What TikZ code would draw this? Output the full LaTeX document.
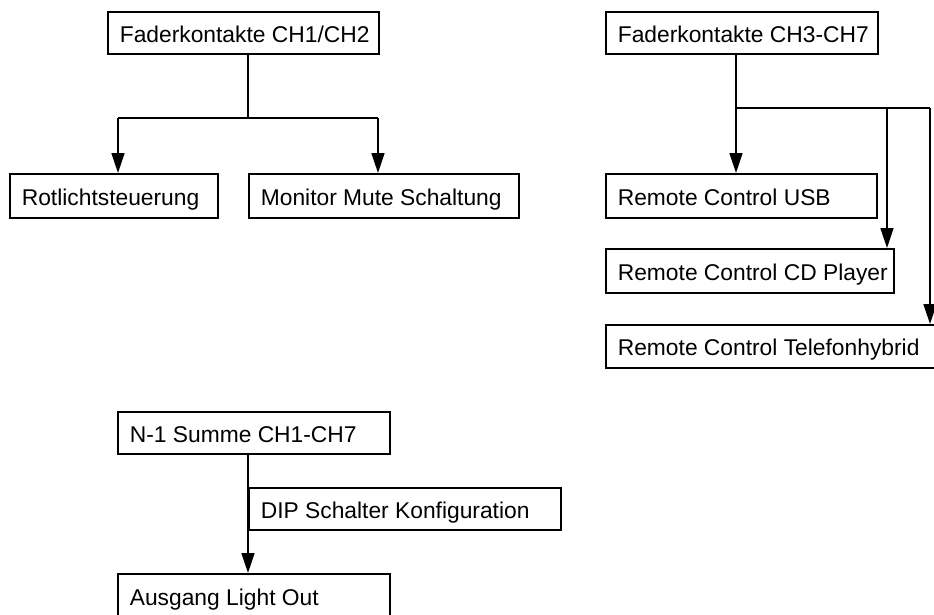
\documentclass[tikz,border=0pt]{standalone}
\usepackage{fontspec}
\setmainfont{Liberation Sans}
\usetikzlibrary{arrows.meta}
\usetikzlibrary{positioning}

\begin{document}
\begin{tikzpicture}[
    x=1pt, y=-1pt,
    line width=1.7pt,
    font=\fontsize{22.8}{27}\selectfont
]
\tikzset{
    mybox/.style = {rectangle, draw=black, anchor=north west, minimum height=42pt},
    mytxt/.style = {anchor=base west, inner xsep=12pt, yshift=-9.5pt},
    edgen/.style = {-},
    edger/.style = {-{Triangle[length=20pt,width=13pt]}}
}
\useasboundingbox (0,0) rectangle (934,614);
\clip (0,0) rectangle (934,614);
% Kanal 1/2
\node[mybox, minimum width=271pt, label={[mytxt]west:Faderkontakte CH1/CH2}] at (107,11) (fa) {};
\node[mybox, minimum width=208pt, minimum height=44pt, label={[mytxt]west:Rotlichtsteuerung}] at (9,173) (rot) {};
\node[mybox, minimum width=270pt, minimum height=44pt, label={[mytxt]west:Monitor Mute Schaltung}] at (248,173) (mon) {};
% Kanal 3-7
\node[mybox, minimum width=272pt, label={[mytxt]west:Faderkontakte CH3-CH7}] at (605,11) (fb) {};
\node[mybox, minimum width=271pt, minimum height=44pt, label={[mytxt]west:Remote Control USB}] at (605,173) (usb) {};
\node[mybox, minimum width=288pt, minimum height=44pt, label={[mytxt]west:Remote Control CD Player}] at (605,248) (cd) {};
\node[mybox, minimum width=340pt, minimum height=43pt, label={[mytxt]west:Remote Control Telefonhybrid}] at (605,324) (tel) {};
% N-1
\node[mybox, minimum width=272pt, label={[mytxt]west:N-1 Summe CH1-CH7}] at (117,411) (sum) {};
\node[mybox, minimum width=312pt, label={[mytxt]west:DIP Schalter Konfiguration}] at (248,487) (dip) {};
\node[mybox, minimum width=272pt, minimum height=60pt, label={[mytxt, yshift=8pt]west:Ausgang Light Out}] at (117,573) (aus) {};

\coordinate (ja) at (248,118);
\coordinate (jr) at (118,118);
\coordinate (jm) at (378,118);
\coordinate (jb) at (736,108);
\coordinate (jc) at (887,108);
\coordinate (jd) at (930,108);

\draw[edgen] (fa.south -| ja) -- (ja);
\draw[edgen] (jr) -- (jm);
\draw[edger] (jr) -- (jr |- rot.north);
\draw[edger] (jm) -- (jm |- mon.north);

\draw[edgen] (fb.south -| jb) -- (jb) -- (jd);
\draw[edger] (jb) -- (jb |- usb.north);
\draw[edger] (jc) -- (jc |- cd.north);
\draw[edger] (jd) -- (jd |- tel.north);

\draw[edger] (sum.south -| dip.west) -- (dip.west |- aus.north);
\end{tikzpicture}
\end{document}
